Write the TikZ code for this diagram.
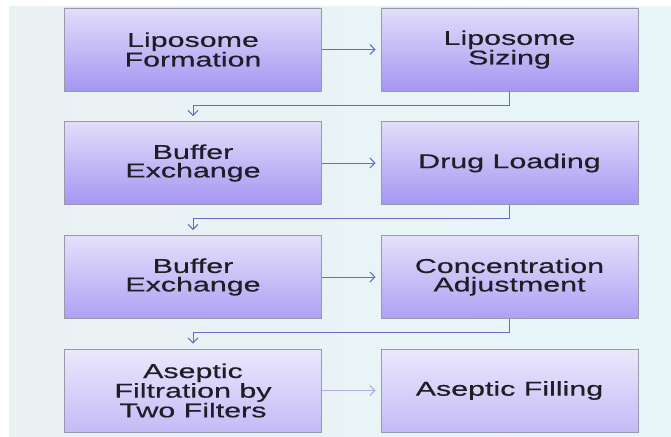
\documentclass[tikz,border=0pt]{standalone}
\usepackage{fontspec}
\setmainfont{Liberation Sans}
\newfontfamily\slidefont[FakeStretch=1.52, FakeBold=0.4]{Liberation Sans}
\usetikzlibrary{arrows.meta, positioning, calc}
\definecolor{panelcyan}{HTML}{E8F6FA}
\definecolor{panelgrey}{HTML}{EAF1F3}
\definecolor{boxtop}{HTML}{E2DEFA}
\definecolor{boxbottom}{HTML}{A596F2}
\definecolor{boxline}{HTML}{9A98AC}
\definecolor{flowblue}{HTML}{6C68C6}
\definecolor{textdark}{HTML}{1E1E26}

\begin{document}
\begin{tikzpicture}[x=1pt, y=1pt,
  stage/.style={rectangle, draw=boxline, line width=0.8pt, top color=boxtop, bottom color=boxbottom, minimum width=257pt, minimum height=83pt, align=center, text=textdark, font=\slidefont\fontsize{20}{18.5}\selectfont},
  arrow/.style={-{Straight Barb[length=5pt, width=10pt]}, draw=flowblue, line width=1pt, shorten >=5pt}
]
  % Panel
  \useasboundingbox (0,0) rectangle (671,-436);
  \fill[left color=panelgrey, right color=panelcyan] (9,-7) rectangle (671,-436);

  % Stages
  \node[stage] (formation) at (193,-49.5) {Liposome\\Formation};
  \node[stage] (sizing) at (509.5,-49.5) {Liposome\\Sizing};
  \node[stage] (exchangeA) at (193,-163) {Buffer\\Exchange};
  \node[stage] (loading) at (509.5,-163) {Drug Loading};
  \node[stage, top color=boxtop!92!white, bottom color=boxbottom!90!white] (exchangeB) at (193,-277) {Buffer\\Exchange};
  \node[stage, top color=boxtop!92!white, bottom color=boxbottom!90!white] (adjust) at (509.5,-277) {Concentration\\Adjustment};
  \node[stage, top color=boxtop!70!white, bottom color=boxbottom!65!white] (filtration) at (193,-390.5) {Aseptic\\Filtration by\\Two Filters};
  \node[stage, top color=boxtop!70!white, bottom color=boxbottom!65!white] (filling) at (509.5,-390.5) {Aseptic Filling};

  % Arrows
  \draw[arrow] (formation) -- (sizing);
  \draw[arrow] (sizing.south) -- ++(0,-14) -| (exchangeA.north);

  \draw[arrow] (exchangeA) -- (loading);
  \draw[arrow] (loading.south) -- ++(0,-14) -| (exchangeB.north);

  \draw[arrow] (exchangeB) -- (adjust);
  \draw[arrow] (adjust.south) -- ++(0,-14) -| (filtration.north);

  \draw[arrow, draw=flowblue!55] (filtration) -- (filling);
\end{tikzpicture}
\end{document}
